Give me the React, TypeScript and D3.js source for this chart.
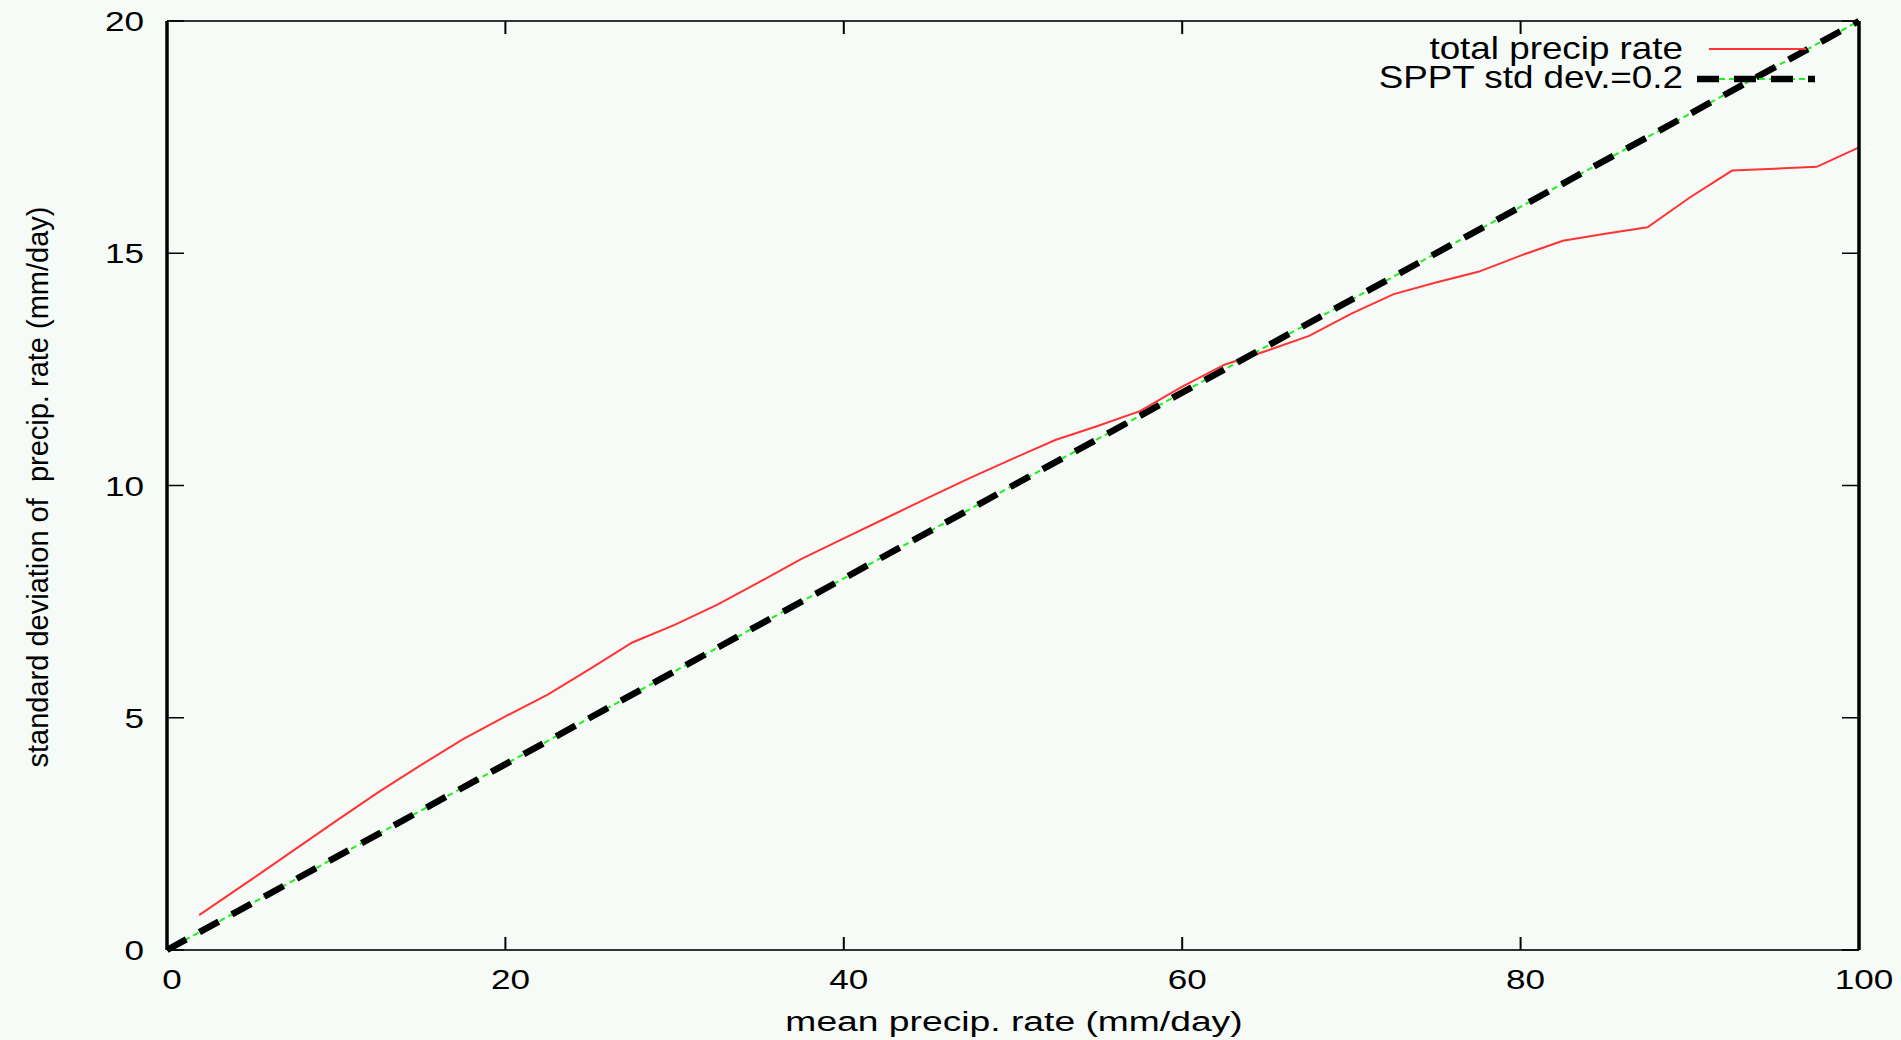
import React from 'react';
import * as d3 from 'd3';

// ---- data ----
const meanRate = [1.9, 5, 7.5, 10, 12.5, 15, 17.5, 20, 22.5, 25, 27.5, 30, 32.5, 35, 37.5, 40, 42.5, 45, 47.5, 50, 52.5, 55, 57.5, 60, 62.5, 65, 67.5, 70, 72.5, 75, 77.5, 80, 82.5, 85, 87.5, 90, 92.5, 95, 97.5, 100];
const stdDevRate = [0.75, 1.52, 2.15, 2.78, 3.4, 3.98, 4.54, 5.03, 5.5, 6.05, 6.62, 7.0, 7.43, 7.92, 8.42, 8.86, 9.3, 9.74, 10.17, 10.58, 10.98, 11.28, 11.6, 12.13, 12.6, 12.9, 13.22, 13.7, 14.12, 14.37, 14.6, 14.95, 15.27, 15.42, 15.56, 16.2, 16.78, 16.82, 16.86, 17.28];
const spptMean = [0, 100];
const spptStd = [0, 20];
const xTicks = [0, 20, 40, 60, 80, 100];
const yTicks = [0, 5, 10, 15, 20];
const seriesNames = ['total precip rate', 'SPPT std dev.=0.2'];
const xLabel = 'mean precip. rate (mm/day)';
const yLabel = 'standard deviation of  precip. rate (mm/day)';

const W = 1901, H = 1040;
const L = 167, R = 1859, T = 21, B = 950;
const BG = '#f6fbf8';
const FONT = '"Liberation Sans", Arial, Helvetica, sans-serif';

export default function App() {
  const x = d3.scaleLinear().domain([0, 100]).range([L, R]);
  const y = d3.scaleLinear().domain([0, 20]).range([B, T]);
  const line = d3.line<[number, number]>().x(d => x(d[0])).y(d => y(d[1]));
  const redPts: [number, number][] = meanRate.map((m, i) => [m, stdDevRate[i]]);
  const spptPts: [number, number][] = spptMean.map((m, i) => [m, spptStd[i]]);

  return (
    <svg width={W} height={H} style={{ position: 'absolute', left: 0, top: 0, display: 'block' }}>
      <rect x={0} y={0} width={W} height={H} fill={BG} />
      {/* data */}
      <path d={line(redPts) || ''} fill="none" stroke="#ff3333" strokeWidth={2} />
      <path d={line(spptPts) || ''} fill="none" stroke="#22ee22" strokeWidth={2} strokeDasharray="6 4" />
      <path d={line(spptPts) || ''} fill="none" stroke="#000" strokeWidth={6.5} strokeDasharray="22 15" />

      {/* frame */}
      <line x1={L} x2={R} y1={T} y2={T} stroke="#333" strokeWidth={2} />
      <line x1={L} x2={R} y1={B} y2={B} stroke="#333" strokeWidth={2} />
      <line x1={L} x2={L} y1={T} y2={B} stroke="#000" strokeWidth={3.5} />
      <line x1={R} x2={R} y1={T} y2={B} stroke="#000" strokeWidth={3.5} />

      {/* x ticks */}
      {xTicks.map(t => (
        <g key={'xt' + t}>
          <line x1={x(t)} x2={x(t)} y1={B} y2={B - 13} stroke="#000" strokeWidth={2} />
          <line x1={x(t)} x2={x(t)} y1={T} y2={T + 13} stroke="#000" strokeWidth={2} />
          <text transform={`translate(${x(t) + 5},${989}) scale(1.3,1)`} textAnchor="middle" fontFamily={FONT} fontSize={27} fill="#000">{t}</text>
        </g>
      ))}
      {/* y ticks */}
      {yTicks.map(t => (
        <g key={'yt' + t}>
          <line x1={L} x2={L + 17} y1={y(t)} y2={y(t)} stroke="#000" strokeWidth={1.5} />
          <line x1={R} x2={R - 17} y1={y(t)} y2={y(t)} stroke="#000" strokeWidth={1.5} />
          <text transform={`translate(144,${y(t) + 10}) scale(1.3,1)`} textAnchor="end" fontFamily={FONT} fontSize={27} fill="#000">{t}</text>
        </g>
      ))}

      {/* axis labels */}
      <text transform={`translate(1014,1031) scale(1.33,1)`} textAnchor="middle" fontFamily={FONT} fontSize={28} fill="#000">{xLabel}</text>
      <text transform={`translate(48,487) rotate(-90)`} textAnchor="middle" fontFamily={FONT} fontSize={29} fill="#000" style={{ whiteSpace: 'pre' }}>{yLabel}</text>

      {/* legend */}
      <text transform="translate(1683,59) scale(1.15,1)" textAnchor="end" fontFamily={FONT} fontSize={32} fill="#000">{seriesNames[0]}</text>
      <line x1={1709} x2={1806} y1={49} y2={49} stroke="#ff3333" strokeWidth={2} />
      <text transform="translate(1683,88) scale(1.15,1)" textAnchor="end" fontFamily={FONT} fontSize={32} fill="#000">{seriesNames[1]}</text>
      <line x1={1709} x2={1815} y1={79} y2={79} stroke="#22ee22" strokeWidth={2} strokeDasharray="6 4" />
      <line x1={1697} x2={1815} y1={79} y2={79} stroke="#000" strokeWidth={6.5} strokeDasharray="22 15" />
    </svg>
  );
}
